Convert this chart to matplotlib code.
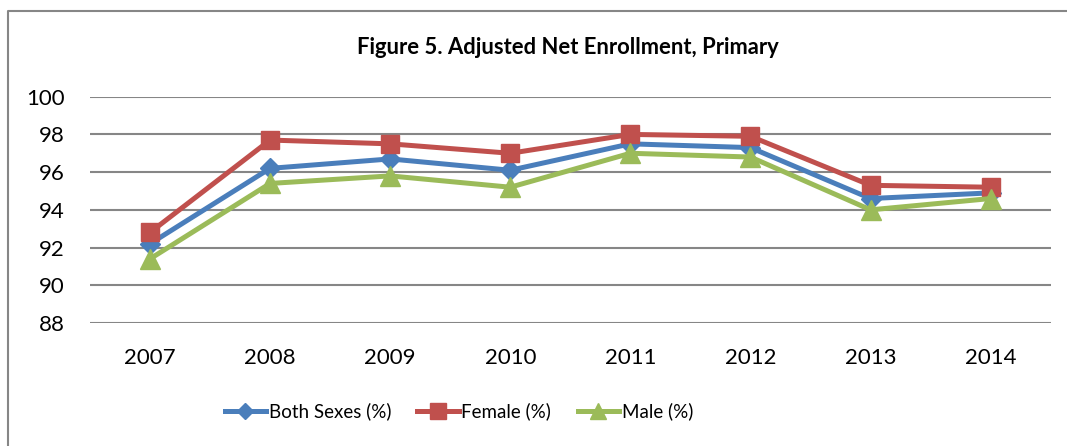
import matplotlib.pyplot as plt
from matplotlib.lines import Line2D

years = ['2007', '2008', '2009', '2010', '2011', '2012', '2013', '2014']
both_sexes = [92.2, 96.2, 96.7, 96.1, 97.5, 97.3, 94.6, 94.9]
female = [92.8, 97.7, 97.5, 97.0, 98.0, 97.9, 95.3, 95.2]
male = [91.4, 95.4, 95.8, 95.2, 97.0, 96.8, 94.0, 94.6]
yticks = [88, 90, 92, 94, 96, 98, 100]

plt.rcParams['font.family'] = ['Lato', 'DejaVu Sans']

fig = plt.figure(figsize=(10.67, 4.46), dpi=100)
ax = fig.add_axes([0.0843, 0.2758, 0.9004, 0.5074])

x = range(len(years))
ax.plot(x, both_sexes, color='#4a7ebb', lw=3.6, marker='D', ms=10,
        label='Both Sexes (%)', zorder=3)
ax.plot(x, female, color='#c0504d', lw=3.6, marker='s', ms=13,
        label='Female (%)', zorder=4)
ax.plot(x, male, color='#9bbb59', lw=3.6, marker='^', ms=14,
        label='Male (%)', zorder=5)

ax.set_xlim(-0.5, len(years) - 0.5)
ax.set_ylim(88, 100)
ax.set_yticks(yticks)
ax.set_xticks(list(x))
ax.set_xticklabels(years)
ax.tick_params(length=0, labelsize=16, colors='black')
ax.tick_params(axis='y', pad=18)
ax.tick_params(axis='x', pad=18)
ax.grid(axis='y', color='#868686', lw=1.5)
ax.set_axisbelow(True)
for s in ax.spines.values():
    s.set_visible(False)

fig.text(0.532, 0.894, 'Figure 5. Adjusted Net Enrollment, Primary',
         ha='center', va='center', fontsize=15.8, fontweight='bold')

# chart frame (left and top edges)
fig.add_artist(Line2D([0.0075, 0.0075, 1.0], [0.0, 0.975, 0.975],
                      color='#868686', lw=1.5, transform=fig.transFigure))

fig.legend(loc='center', bbox_to_anchor=(0.43, 0.077), ncol=3, frameon=False,
           fontsize=13.5, handlelength=2.2, handletextpad=0.15, columnspacing=1.4,
           markerscale=0.85)

fig.savefig('out.png', dpi=100)
